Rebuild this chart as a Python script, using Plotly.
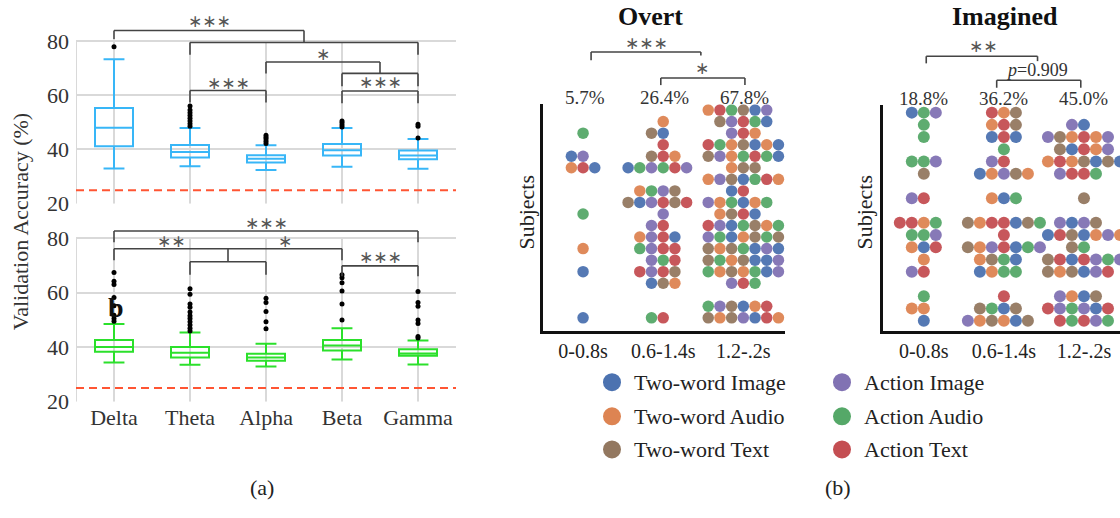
import plotly.graph_objects as go

W, H = 1120, 518
FONT = "Liberation Serif"


def fx(p):
    return p / W


def fy(p):
    return 1 - p / H


# ---------------- panel (a) data ----------------
bands = ["Delta", "Theta", "Alpha", "Beta", "Gamma"]

top_lower = [33.0, 33.8, 32.4, 33.6, 32.9]
top_q1 = [41.2, 37.0, 35.2, 37.8, 36.4]
top_median = [48.0, 39.1, 36.6, 39.7, 37.8]
top_q3 = [55.3, 41.6, 37.9, 42.0, 39.6]
top_upper = [73.2, 47.9, 41.5, 47.9, 43.8]
top_outliers = [
    [77.8],
    [48.5, 49.5, 50.5, 51.5, 52.5, 53.5, 54.5, 56.0],
    [42.2, 43.0, 43.8, 44.5, 45.2],
    [48.3, 49.0, 49.8, 50.5],
    [44.2, 48.5, 49.3],
]

bot_lower = [34.4, 33.5, 32.9, 35.5, 33.6]
bot_q1 = [38.3, 36.2, 35.0, 38.8, 36.8]
bot_median = [40.0, 37.9, 36.2, 40.6, 37.7]
bot_q3 = [42.6, 40.0, 37.6, 42.6, 39.2]
bot_upper = [48.5, 45.4, 41.2, 46.9, 42.4]
bot_outliers = [
    [67.4, 64.2, 63.0, 58.2, 55.2, 51.7, 50.5, 49.5],
    [61.4, 59.4, 55.8, 54.6, 52.9, 51.5, 50.5, 49.3, 48.1, 46.9, 45.9],
    [57.9, 56.4, 53.1, 49.3, 46.7],
    [66.5, 65.4, 63.6, 60.6, 55.8, 49.9],
    [60.4, 56.4, 55.0, 49.9, 48.7, 43.9, 43.3],
]
chance_level = 25

# ---------------- panel (b) data ----------------
windows = ["0-0.8s", "0.6-1.4s", "1.2-.2s"]
overt_pct = ["5.7%", "26.4%", "67.8%"]
imag_pct = ["18.8%", "36.2%", "45.0%"]

cond_codes = ["B", "O", "N", "P", "G", "R"]
cond_names = ["Two-word Image", "Two-word Audio", "Two-word Text",
              "Action Image", "Action Audio", "Action Text"]
cond_colors = ["#4C72B0", "#DD8452", "#937860", "#8172B3", "#55A868", "#C44E52"]

# each row: subject index -> 7 slots (-3..3), letter = condition, '.' = none
overt_rows = [
    {16: "...G...", 14: "..BP...", 13: "..ORB..", 9: "...G...", 6: "...O...",
     4: "...B...", 0: "...B..."},
    {17: "...O...", 16: "..NB...", 15: "...R...", 14: "..NRO..", 13: "BGPGRP.",
     11: ".OGPN..", 10: "NBPRNR.", 9: "...P...", 8: "..PR...", 7: ".OPRB..",
     6: ".GPRR..", 5: "..PGR..", 4: ".RPRN..", 3: "..BNO..", 0: "..GR..."},
    {18: "ORGNBP.", 17: ".NPRGB.", 16: "..PRO..", 15: "RGONBOB", 14: "NPOGRGB",
     13: "..ONN..", 12: "OPNBGRO", 11: "..BR...", 10: "POGBOG.", 9: ".ONRB..",
     8: "RPBGNOG", 7: "PGBONGN", 6: "NONGBPB", 5: "NGONBBP", 4: "GONOGBP",
     3: "..PRG..", 1: "GPNBOR.", 0: "NONPBRO"},
]
imag_rows = [
    {17: "..BGP..", 16: "...G...", 15: "...G...", 13: "..GGP..", 12: "...N...",
     10: "..PR...", 8: ".RROG..", 7: "..GGP..", 6: "..OBR..", 5: "...O...",
     4: "..PR...", 2: "...G...", 1: "..OO...", 0: "...B..."},
    {17: "..RON..", 16: "..ORN..", 15: "..BRB..", 14: "...G...", 13: "..PR...",
     12: ".BOPNO.", 10: "..OBG..", 8: "NORRBNG", 7: "...R...", 6: "NOPRBGP",
     5: ".ONGB..", 4: ".BOGG..", 2: "...R...", 1: ".NGBN..", 0: "PONOBN."},
    {16: "..PB...", 15: "PNOROP.", 14: ".NBROP.", 13: "ORONBNB", 12: ".PRRG..",
     10: "...N...", 8: ".PBPN..", 7: "BRNBOPO", 6: "..NG...", 5: "NRBRPGP",
     4: "NONBPR.", 2: ".POBN..", 1: "RPGPBR.", 0: ".RGRPG."},
]

BLUE = "#38B6F7"
GREEN = "#2BE02B"
RED = "#FF5533"
GRID = "#D9D9D9"
BRK = "#444444"

fig = go.Figure()

# ---------------- boxes ----------------
for ax, (lo, q1, me, q3, up, outs, col) in zip(
        ["", "2"],
        [(top_lower, top_q1, top_median, top_q3, top_upper, top_outliers, BLUE),
         (bot_lower, bot_q1, bot_median, bot_q3, bot_upper, bot_outliers, GREEN)]):
    pos = list(range(len(bands)))
    fig.add_trace(go.Box(
        x=pos, q1=q1, median=me, q3=q3, lowerfence=lo, upperfence=up,
        boxpoints=False, width=0.5, whiskerwidth=0.55,
        line=dict(color=col, width=2), fillcolor="rgba(255,255,255,0)",
        xaxis="x" + ax, yaxis="y" + ax, showlegend=False, hoverinfo="skip"))
    ox, oy = [], []
    for i, vals in enumerate(outs):
        ox += [i] * len(vals)
        oy += vals
    fig.add_trace(go.Scatter(
        x=ox, y=oy, mode="markers", marker=dict(color="black", size=5),
        xaxis="x" + ax, yaxis="y" + ax, showlegend=False, hoverinfo="skip"))

shapes = []
for yr in ["y", "y2"]:
    xr = "x" if yr == "y" else "x2"
    for xv in [-0.5, 0, 1, 2, 3, 4]:
        shapes.append(dict(type="line", xref=xr, yref=yr, x0=xv, x1=xv, y0=20, y1=80,
                           line=dict(color=GRID, width=2), layer="below"))
    shapes.append(dict(type="line", xref=xr, yref=yr, x0=-0.5, x1=4.5,
                       y0=chance_level, y1=chance_level,
                       line=dict(color=RED, width=2, dash="8px,5px")))


def seg(xr, yr, x0, y0, x1, y1):
    shapes.append(dict(type="line", xref=xr, yref=yr, x0=x0, y0=y0, x1=x1, y1=y1,
                       line=dict(color=BRK, width=1.6)))


def bracket(xr, yr, x0, x1, y, e0, e1):
    seg(xr, yr, x0, y, x1, y)
    seg(xr, yr, x0, y, x0, e0)
    seg(xr, yr, x1, y, x1, e1)


annots = []


def txt(xr, yr, x, y, s, size=22, color="#222", bold=False, xanchor="center",
        yshift=0, angle=0, family=FONT):
    if bold:
        s = "<b>" + s + "</b>"
    annots.append(dict(xref=xr, yref=yr, x=x, y=y, text=s, showarrow=False,
                       xanchor=xanchor, yanchor="middle", yshift=yshift, textangle=angle,
                       font=dict(family=family, size=size, color=color)))


def star(xr, yr, x, y, n):
    txt(xr, yr, x, y, "\u2217" * n, size=17, color="#555", family="DejaVu Sans")


# top panel brackets
bracket("x", "y", 0, 2.5, 83.8, 80.6, 79.4)
bracket("x", "y", 1, 4, 79.4, 74.9, 74.9)
bracket("x", "y", 2, 3.5, 72.2, 68.0, 68.0)
bracket("x", "y", 3, 4, 68.0, 63.3, 63.3)
bracket("x", "y", 3, 4, 61.5, 57.0, 57.0)
bracket("x", "y", 1, 2, 61.7, 57.3, 57.3)
star("x", "y", 1.25, 87.3, 3)
star("x", "y", 2.75, 75.3, 1)
star("x", "y", 3.5, 65.0, 3)
star("x", "y", 1.5, 64.6, 3)

# bottom panel brackets
bracket("x2", "y2", 0, 4, 82.6, 78.5, 78.5)
bracket("x2", "y2", 0, 3, 76.1, 71.9, 71.9)
seg("x2", "y2", 1.5, 76.1, 1.5, 71.3)
bracket("x2", "y2", 1, 2, 71.3, 66.5, 66.5)
bracket("x2", "y2", 3, 4, 69.8, 66.0, 66.0)
star("x2", "y2", 2, 85.6, 3)
star("x2", "y2", 0.75, 79.0, 2)
star("x2", "y2", 2.25, 79.0, 1)
star("x2", "y2", 3.5, 73.1, 3)

txt("x2", "y2", 0.02, 54.5, "b", size=28, color="#111", bold=True)

# ---------------- dot plots ----------------
for (rows_all, xa, ya, step, msize) in [(overt_rows, "x3", "y3", 0.146, 11.5),
                                        (imag_rows, "x4", "y4", 0.15, 12)]:
    for code, name, col in zip(cond_codes, cond_names, cond_colors):
        xs, ys = [], []
        for ci, rows in enumerate(rows_all):
            for r, s in rows.items():
                for k, ch in enumerate(s):
                    if ch == code:
                        xs.append(ci + (k - 3) * step)
                        ys.append(r)
        fig.add_trace(go.Scatter(x=xs, y=ys, mode="markers", name=name,
                                 marker=dict(color=col, size=msize, opacity=0.95,
                                             line=dict(width=0)),
                                 xaxis=xa, yaxis=ya, showlegend=False, hoverinfo="skip"))

# panel b brackets (y in paper)
bracket("x3", "paper", 0.1, 1.47, fy(53.3), fy(61.7), fy(57.0))
bracket("x3", "paper", 0.97, 2.02, fy(80.0), fy(87.3), fy(87.3))
star("x3", "paper", 0.79, fy(44.0), 3)
star("x3", "paper", 1.48, fy(70.0), 1)
bracket("x4", "paper", 0.03, 1.42, fy(57.7), fy(65.0), fy(62.7))
bracket("x4", "paper", 0.91, 1.96, fy(82.3), fy(90.0), fy(90.0))
star("x4", "paper", 0.74, fy(47.5), 2)
txt("x4", "paper", 1.41, fy(72.0), "<i>p</i>=0.909", size=18, color="#333")

for i, s in enumerate(overt_pct):
    txt("x3", "paper", i + 0.02, fy(100), s, size=19, color="#333")
for i, s in enumerate(imag_pct):
    txt("x4", "paper", i, fy(101), s, size=19, color="#333")

txt("paper", "paper", fx(650), fy(17), "Overt", size=26, color="#111", bold=True)
txt("paper", "paper", fx(1005), fy(17), "Imagined", size=26, color="#111", bold=True)
txt("paper", "paper", fx(527), fy(218), "Subjects", size=22, color="#222", angle=-90)
txt("paper", "paper", fx(865), fy(218), "Subjects", size=22, color="#222", angle=-90)
txt("paper", "paper", fx(20), fy(228), "Validation Accuracy (%)", size=22, color="#333",
    angle=-90)
txt("paper", "paper", fx(262), fy(500), "(a)", size=22, color="#222")
txt("paper", "paper", fx(838), fy(500), "(b)", size=22, color="#222")

# ---------------- legend (own hidden axes) ----------------
leg_x = [612, 612, 612, 842, 842, 842]
leg_y = [392, 427, 461, 392, 427, 461]
fig.add_trace(go.Scatter(x=leg_x, y=leg_y, mode="markers",
                         marker=dict(color=cond_colors, size=18, line=dict(width=0)),
                         xaxis="x5", yaxis="y5", showlegend=False, hoverinfo="skip"))
for lx, ly, nm in zip(leg_x, leg_y, cond_names):
    txt("x5", "y5", lx + 20, ly, nm, size=22, color="#222", xanchor="left")

tickfont = dict(family=FONT, size=22, color="#333")
fig.update_layout(
    width=W, height=H, margin=dict(l=0, r=0, t=0, b=0),
    paper_bgcolor="white", plot_bgcolor="rgba(0,0,0,0)",
    font=dict(family=FONT),
    showlegend=False,
    xaxis=dict(domain=[fx(76), fx(456)], range=[-0.5, 4.5], anchor="y",
               showgrid=False, zeroline=False, showticklabels=False),
    yaxis=dict(domain=[fy(209), fy(14)], range=[20, 90], anchor="x",
               tickvals=[20, 40, 60, 80], showgrid=True, gridcolor=GRID, gridwidth=2,
               zeroline=False, tickfont=tickfont, ticklabelstandoff=6),
    xaxis2=dict(domain=[fx(76), fx(456)], range=[-0.5, 4.5], anchor="y2",
                tickvals=list(range(5)), ticktext=bands, showgrid=False, zeroline=False,
                tickfont=tickfont),
    yaxis2=dict(domain=[fy(412), fy(219)], range=[20, 89], anchor="x2",
                tickvals=[20, 40, 60, 80], showgrid=True, gridcolor=GRID, gridwidth=2,
                zeroline=False, tickfont=tickfont, ticklabelstandoff=6),
    xaxis3=dict(domain=[fx(543), fx(785)], range=[-0.5, 2.52], anchor="y3",
                tickvals=[0, 1, 2], ticktext=windows, showgrid=False, zeroline=False,
                showline=True, linecolor="#111", linewidth=2.5,
                tickfont=dict(family=FONT, size=20, color="#222")),
    yaxis3=dict(domain=[fy(340), fy(107)], range=[-1.18, 18.5], anchor="x3",
                showgrid=False, zeroline=False, showticklabels=False,
                showline=True, linecolor="#111", linewidth=2.5),
    xaxis4=dict(domain=[fx(883), 1.0], range=[-0.51, 2.45], anchor="y4",
                tickvals=[0, 1, 2], ticktext=windows, showgrid=False, zeroline=False,
                showline=True, linecolor="#111", linewidth=2.5,
                tickfont=dict(family=FONT, size=20, color="#222")),
    yaxis4=dict(domain=[fy(340), fy(108)], range=[-0.88, 17.6], anchor="x4",
                showgrid=False, zeroline=False, showticklabels=False,
                showline=True, linecolor="#111", linewidth=2.5),
    xaxis5=dict(domain=[0, 1], range=[0, W], anchor="y5", visible=False),
    yaxis5=dict(domain=[0, 1], range=[H, 0], anchor="x5", visible=False),
    shapes=shapes,
    annotations=annots,
)

fig.write_html("out.html")
